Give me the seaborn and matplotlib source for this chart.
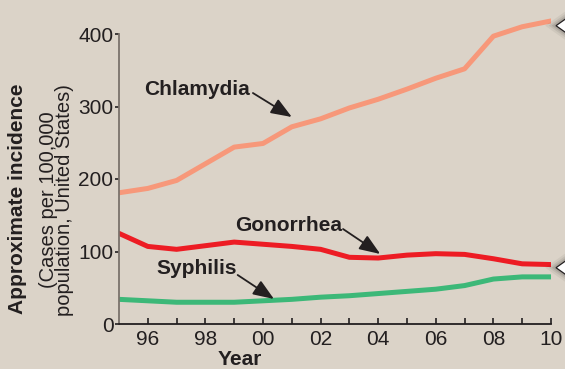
import numpy as np
import pandas as pd
import matplotlib
matplotlib.use("Agg")
import matplotlib.pyplot as plt
import matplotlib.patheffects as pe
from matplotlib.patches import Polygon
import seaborn as sns

# Reported incidence, cases per 100,000 population, United States
years = list(range(1995, 2011))
chlamydia = [181, 187, 198, 221, 244, 249, 272, 283, 298, 310, 324, 339, 352, 397, 410, 418]
gonorrhea = [125, 107, 103, 108, 113, 110, 107, 103, 92, 91, 95, 97, 96, 90, 83, 82]
syphilis = [34, 32, 30, 30, 30, 32, 34, 37, 39, 42, 45, 48, 53, 62, 65, 65]

diseases = ["Chlamydia", "Gonorrhea", "Syphilis"]
colors = ["#f7987a", "#ed1c24", "#3cb878"]

major_years = [1996, 1998, 2000, 2002, 2004, 2006, 2008, 2010]
major_labels = ["96", "98", "00", "02", "04", "06", "08", "10"]
minor_years = [1997, 1999, 2001, 2003, 2005, 2007, 2009]
y_ticks = [0, 100, 200, 300, 400]

df = pd.DataFrame({
    "Year": years * 3,
    "Incidence": chlamydia + gonorrhea + syphilis,
    "Disease": sum([[d] * len(years) for d in diseases], []),
})

sns.set_theme(style="ticks")
plt.rcParams["font.family"] = ["Liberation Sans", "DejaVu Sans"]

BG = "#dbd3c8"
INK = "#231f20"
W, H = 565, 369


def fx(px):
    return px / W


def fy(py):
    return 1 - py / H


fig = plt.figure(figsize=(W / 100, H / 100), dpi=100, facecolor=BG)
ax = fig.add_axes([fx(119), fy(324), (551 - 119) / W, 311.75 / H])
ax.set_facecolor("none")

sns.lineplot(data=df, x="Year", y="Incidence", hue="Disease",
             palette=dict(zip(diseases, colors)), linewidth=3.6,
             legend=False, ax=ax, zorder=2)
for ln in ax.lines:
    ln.set_solid_capstyle("round")
    ln.set_solid_joinstyle("round")

ax.set_xlim(1995, 2010)
ax.set_ylim(0, 430)

sns.despine(ax=ax)
ax.spines["left"].set_bounds(0, 400)
ax.spines["left"].set_color("#7a726b")
ax.spines["left"].set_linewidth(1.3)
ax.spines["bottom"].set_color(INK)
ax.spines["bottom"].set_linewidth(1.3)
for s in ax.spines.values():
    s.set_zorder(3)

ax.set_xticks(major_years)
ax.set_xticklabels(major_labels)
ax.set_xticks(minor_years, minor=True)
ax.set_yticks(y_ticks)
ax.tick_params(axis="x", which="both", direction="in", length=4.5, width=1.2,
               color=INK, pad=4, labelsize=15, labelcolor=INK)
ax.tick_params(axis="y", direction="out", length=3, width=1.2, color=INK,
               pad=1, labelsize=15, labelcolor=INK)

ax.set_xlabel("Year", fontsize=15, fontweight="bold", color=INK)
ax.xaxis.set_label_coords((240 - 119) / 432, (324 - 350) / 311.75)
ax.set_ylabel("Approximate incidence", fontsize=15, fontweight="bold", color=INK)
ax.yaxis.set_label_coords((27 - 119) / 432, (324 - 199) / 311.75)
fig.text(fx(56.5), fy(200), "(Cases per 100,000\npopulation, United States)",
         rotation=90, ha="center", va="center", multialignment="center",
         fontsize=14.5, color=INK, linespacing=0.78)

# Series labels with pointer arrows
labels = [
    ("Chlamydia", (1997.70, 322.8), (1999.65, 318.6), (2001.0, 285.5)),
    ("Gonorrhea", (2000.88, 135.2), (2002.78, 131.0), (2004.07, 96.6)),
    ("Syphilis", (1997.70, 77.2), (1999.12, 67.6), (2000.38, 34.5)),
]
for name, tpos, start, tip in labels:
    ax.text(*tpos, name, ha="center", va="center", fontsize=15,
            fontweight="bold", color=INK)
    ax.annotate("", xy=tip, xytext=start,
                arrowprops=dict(arrowstyle="-|>,head_length=0.85,head_width=0.33",
                                color=INK, lw=1.3, shrinkA=0, shrinkB=0,
                                mutation_scale=15))

# White pointer triangles at the right edge
for ty in (25.7, 267.7):
    pts = [(fx(556), fy(ty)), (fx(568), fy(ty - 8.5)), (fx(568), fy(ty + 8.5))]
    tri = Polygon(pts, closed=True, transform=fig.transFigure, facecolor="white",
                  edgecolor=INK, linewidth=0.9, zorder=5)
    tri.set_path_effects([
        pe.Stroke(linewidth=9, foreground="black", alpha=0.05),
        pe.Stroke(linewidth=6, foreground="black", alpha=0.07),
        pe.Stroke(linewidth=3.5, foreground="black", alpha=0.1),
        pe.Normal(),
    ])
    fig.patches.append(tri)

fig.savefig("out.png", dpi=100, facecolor=BG)
